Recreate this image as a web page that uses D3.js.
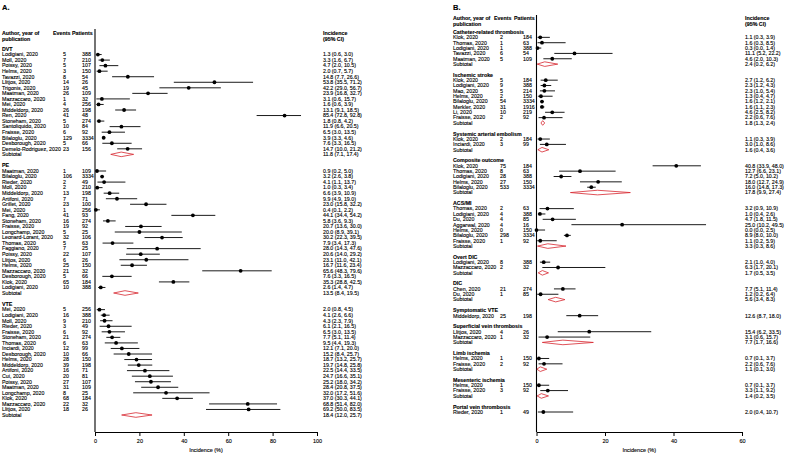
<!DOCTYPE html>
<html>
<head>
<meta charset="utf-8">
<script src="https://cdn.jsdelivr.net/npm/d3@7"></script>
<style>
  body { margin: 0; background: #fff; }
  svg text { font-family: 'Liberation Sans', Arial, Helvetica, sans-serif; fill: #000; stroke: #000; stroke-width: 0.12px; }
</style>
</head>
<body>
<svg id="chart" width="787" height="454"></svg>
<script>
// each study: [author, events, patients, incidence, lower, upper]
const dvt = [
  ["Lodigiani, 2020", 5, 388, 1.3, 0.6, 3.0],
  ["Moll, 2020", 7, 210, 3.3, 1.6, 6.7],
  ["Poissy, 2020", 5, 107, 4.7, 2.0, 10.5],
  ["Helms, 2020", 3, 150, 2.0, 0.7, 5.7],
  ["Tavazzi, 2020", 8, 54, 14.8, 7.7, 26.6],
  ["Llitjos, 2020", 14, 26, 53.8, 35.5, 71.2],
  ["Trigonis, 2020", 19, 45, 42.2, 29.0, 56.7],
  ["Maatman, 2020", 26, 109, 23.9, 16.8, 32.7],
  ["Mazzaccaro, 2020", 1, 32, 3.1, 0.6, 15.7],
  ["Mei, 2020", 4, 256, 1.6, 0.6, 3.9],
  ["Middeldorp, 2020", 26, 198, 13.1, 9.1, 18.5],
  ["Ren, 2020", 41, 48, 85.4, 72.8, 92.8],
  ["Stoneham, 2020", 5, 274, 1.8, 0.8, 4.2],
  ["Santoliquido, 2020", 10, 84, 11.9, 6.6, 20.5],
  ["Fraisse, 2020", 6, 92, 6.5, 3.0, 13.5],
  ["Bilaloglu, 2020", 129, 3334, 3.9, 3.3, 4.6],
  ["Desborough, 2020", 5, 66, 7.6, 3.3, 16.5],
  ["Demelo-Rodriguez, 2020", 23, 156, 14.7, 10.0, 21.2]
];
const pe = [
  ["Maatman, 2020", 1, 109, 0.9, 0.2, 5.0],
  ["Bilaloglu, 2020", 106, 3334, 3.2, 2.6, 3.8],
  ["Rieder, 2020", 2, 49, 4.1, 1.1, 13.7],
  ["Moll, 2020", 2, 210, 1.0, 0.3, 3.4],
  ["Middeldorp, 2020", 13, 198, 6.6, 3.9, 10.9],
  ["Artifoni, 2020", 7, 71, 9.9, 4.9, 19.0],
  ["Grillet, 2020", 23, 100, 23.0, 15.8, 32.2],
  ["Mei, 2020", 1, 256, 0.4, 0.1, 2.2],
  ["Fang, 2020", 41, 93, 44.1, 34.4, 54.2],
  ["Stoneham, 2020", 16, 274, 5.8, 3.6, 9.3],
  ["Fraisse, 2020", 19, 92, 20.7, 13.6, 30.0],
  ["Longchamp, 2020", 5, 25, 20.0, 8.9, 39.1],
  ["Leonard-Lorant, 2020", 32, 106, 30.2, 22.3, 39.5],
  ["Thomas, 2020", 5, 63, 7.9, 3.4, 17.3],
  ["Faggiano, 2020", 7, 25, 28.0, 14.3, 47.6],
  ["Poissy, 2020", 22, 107, 20.6, 14.0, 29.2],
  ["Llitjos, 2020", 6, 26, 23.1, 11.0, 42.1],
  ["Helms, 2020", 25, 150, 16.7, 11.6, 23.4],
  ["Mazzaccaro, 2020", 21, 32, 65.6, 48.3, 79.6],
  ["Desborough, 2020", 5, 66, 7.6, 3.3, 16.5],
  ["Klok, 2020", 65, 184, 35.3, 28.8, 42.5],
  ["Lodigiani, 2020", 10, 388, 2.6, 1.4, 4.7]
];
const vte = [
  ["Mei, 2020", 5, 256, 2.0, 0.8, 4.5],
  ["Lodigiani, 2020", 16, 388, 4.1, 2.6, 6.6],
  ["Moll, 2020", 9, 210, 4.3, 2.3, 7.9],
  ["Rieder, 2020", 3, 49, 6.1, 2.1, 16.5],
  ["Fraisse, 2020", 6, 92, 6.5, 3.0, 13.5],
  ["Stoneham, 2020", 21, 274, 7.7, 5.1, 11.4],
  ["Thomas, 2020", 6, 63, 9.5, 4.4, 19.3],
  ["Inciardi, 2020", 12, 99, 12.1, 7.1, 20.0],
  ["Desborough, 2020", 10, 66, 15.2, 8.4, 25.7],
  ["Helms, 2020", 28, 150, 18.7, 13.2, 25.7],
  ["Middeldorp, 2020", 39, 198, 19.7, 14.8, 25.8],
  ["Artifoni, 2020", 16, 71, 22.5, 14.4, 33.5],
  ["Cui, 2020", 20, 81, 24.7, 16.6, 35.1],
  ["Poissy, 2020", 27, 107, 25.2, 18.0, 34.2],
  ["Maatman, 2020", 31, 109, 28.4, 20.8, 37.5],
  ["Longchamp, 2020", 8, 25, 32.0, 17.2, 51.6],
  ["Klok, 2020", 68, 184, 37.0, 30.3, 44.1],
  ["Mazzaccaro, 2020", 22, 32, 68.8, 51.4, 82.0],
  ["Llitjos, 2020", 18, 26, 69.2, 50.0, 83.5]
];
// subtotal: [incidence, lower, upper]
const dvtSub = [11.8, 7.1, 17.4];
const peSub = [13.5, 8.4, 19.5];
const vteSub = [18.4, 12.0, 25.7];

const catheter = [
  ["Klok, 2020", 2, 184, 1.1, 0.3, 3.9],
  ["Thomas, 2020", 1, 63, 1.6, 0.3, 8.5],
  ["Lodigiani, 2020", 1, 388, 0.3, 0.0, 1.4],
  ["Tavazzi, 2020", 6, 54, 11.1, 5.2, 22.2],
  ["Maatman, 2020", 5, 109, 4.6, 2.0, 10.3]
];
const stroke = [
  ["Klok, 2020", 5, 184, 2.7, 1.2, 6.2],
  ["Lodigiani, 2020", 9, 388, 2.3, 1.2, 4.3],
  ["Mao, 2020", 5, 214, 2.3, 1.0, 5.4],
  ["Helms, 2020", 2, 150, 1.3, 0.4, 4.7],
  ["Bilaloglu, 2020", 54, 3334, 1.6, 1.2, 2.1],
  ["Merkler, 2020", 31, 1916, 1.6, 1.1, 2.3],
  ["Li, 2020", 10, 219, 4.6, 2.5, 8.2],
  ["Fraisse, 2020", 2, 92, 2.2, 0.6, 7.6]
];
const embolism = [
  ["Klok, 2020", 2, 184, 1.1, 0.3, 3.9],
  ["Inciardi, 2020", 3, 99, 3.0, 1.0, 8.6]
];
const composite = [
  ["Klok, 2020", 75, 184, 40.8, 33.9, 48.0],
  ["Thomas, 2020", 8, 63, 12.7, 6.6, 23.1],
  ["Lodigiani, 2020", 28, 388, 7.2, 5.0, 10.2],
  ["Helms, 2020", 27, 150, 18.0, 12.7, 24.9],
  ["Bilaloglu, 2020", 533, 3334, 16.0, 14.8, 17.3]
];
const acsmi = [
  ["Thomas, 2020", 2, 63, 3.2, 0.9, 10.9],
  ["Lodigiani, 2020", 4, 388, 1.0, 0.4, 2.6],
  ["Du, 2020", 4, 85, 4.7, 1.8, 11.5],
  ["Aggarwal, 2020", 4, 16, 25.0, 10.2, 49.5],
  ["Helms, 2020", 0, 150, 0.0, 0.0, 2.5],
  ["Bilaloglu, 2020", 298, 3334, 8.9, 8.0, 10.0],
  ["Fraisse, 2020", 1, 92, 1.1, 0.2, 5.9]
];
const overtDic = [
  ["Lodigiani, 2020", 8, 388, 2.1, 1.0, 4.0],
  ["Mazzaccaro, 2020", 2, 32, 6.3, 1.7, 20.1]
];
const dic = [
  ["Chen, 2020", 21, 274, 7.7, 5.1, 11.4],
  ["Du, 2020", 1, 85, 1.2, 0.2, 6.4]
];
const sympVte = [
  ["Middeldorp, 2020", 25, 198, 12.6, 8.7, 18.0]
];
const superficial = [
  ["Llitjos, 2020", 4, 26, 15.4, 6.2, 33.5],
  ["Mazzaccaro, 2020", 1, 32, 3.1, 0.6, 15.7]
];
const limb = [
  ["Helms, 2020", 1, 150, 0.7, 0.1, 3.7],
  ["Fraisse, 2020", 2, 92, 2.2, 0.6, 7.6]
];
const mesenteric = [
  ["Helms, 2020", 1, 150, 0.7, 0.1, 3.7],
  ["Fraisse, 2020", 3, 92, 3.3, 1.1, 9.2]
];
const portal = [
  ["Rieder, 2020", 1, 49, 2.0, 0.4, 10.7]
];
const catheterSub = [2.4, 0.2, 6.2];
const strokeSub = [1.8, 1.3, 2.4];
const embolismSub = [1.6, 0.4, 3.6];
const compositeSub = [17.8, 9.9, 27.4];
const acsmiSub = [3.3, 0.3, 8.6];
const overtDicSub = [1.7, 0.5, 3.5];
const dicSub = [5.6, 3.4, 8.3];
const superficialSub = [7.7, 1.7, 16.6];
const limbSub = [1.1, 0.1, 3.0];
const mesentericSub = [1.4, 0.2, 3.5];

const ticksA = [0, 20, 40, 60, 80, 100];
const ticksB = [0, 20, 40, 60];

const sectionsA = [
  { label: "DVT", studies: dvt, sub: dvtSub },
  { label: "PE", studies: pe, sub: peSub },
  { label: "VTE", studies: vte, sub: vteSub }
];
const sectionsB = [
  { label: "Catheter-related thrombosis", studies: catheter, sub: catheterSub },
  { label: "Ischemic stroke", studies: stroke, sub: strokeSub },
  { label: "Systemic arterial embolism", studies: embolism, sub: embolismSub },
  { label: "Composite outcome", studies: composite, sub: compositeSub },
  { label: "ACS/MI", studies: acsmi, sub: acsmiSub },
  { label: "Overt DIC", studies: overtDic, sub: overtDicSub },
  { label: "DIC", studies: dic, sub: dicSub },
  { label: "Symptomatic VTE", studies: sympVte, sub: null },
  { label: "Superficial vein thrombosis", studies: superficial, sub: superficialSub },
  { label: "Limb ischemia", studies: limb, sub: limbSub },
  { label: "Mesenteric ischemia", studies: mesenteric, sub: mesentericSub },
  { label: "Portal vein thrombosis", studies: portal, sub: null }
];

const svg = d3.select("#chart");
const FS = 5.3;
const RED = "#d7262e";
const fmt = d3.format(".1f");
const ciText = (e, l, h) => `${fmt(e)} (${fmt(l)}, ${fmt(h)})`;

function buildRows(sections) {
  const rows = [];
  let i = 0;
  sections.forEach(s => {
    rows.push({ type: "head", idx: i++, label: s.label });
    s.studies.forEach(d => rows.push({ type: "study", idx: i++, d: d }));
    if (s.sub) rows.push({ type: "sub", idx: i++, d: s.sub });
    i++; // blank line
  });
  return rows;
}

function drawPanel(p) {
  const rows = buildRows(p.sections);
  const nMax = d3.max(rows, r => r.idx);
  const y = d3.scaleLinear().domain([0, nMax]).range(p.yRange);
  const x = d3.scaleLinear().domain(p.domain).range(p.xRange);
  const g = svg.append("g");

  // panel letter
  g.append("text").attr("x", p.letterX).attr("y", 10)
    .attr("font-size", 7.5).attr("font-weight", "bold").text(p.letter);

  // column headers
  const hd = g.append("g").attr("font-size", FS).attr("font-weight", "bold");
  hd.append("text").attr("x", p.nameX).attr("y", p.headY).attr("dy", "0.35em").text("Author, year of");
  hd.append("text").attr("x", p.nameX).attr("y", p.headY + 6).attr("dy", "0.35em").text("publication");
  hd.append("text").attr("x", p.evHeadX).attr("y", p.headY).attr("dy", "0.35em").text("Events");
  hd.append("text").attr("x", p.ptHeadX).attr("y", p.headY).attr("dy", "0.35em").text("Patients");
  hd.append("text").attr("x", p.ciX).attr("y", p.headY).attr("dy", "0.35em").text("Incidence");
  hd.append("text").attr("x", p.ciX).attr("y", p.headY + 6).attr("dy", "0.35em").text("(95% CI)");

  // text columns
  const tx = g.append("g").attr("font-size", FS);
  rows.forEach(r => {
    const yy = y(r.idx);
    if (r.type === "head") {
      tx.append("text").attr("x", p.nameX).attr("y", yy).attr("dy", "0.35em")
        .attr("font-weight", "bold").text(r.label);
    } else if (r.type === "study") {
      const d = r.d;
      tx.append("text").attr("x", p.nameX).attr("y", yy).attr("dy", "0.35em").text(d[0]);
      tx.append("text").attr("x", p.evX).attr("y", yy).attr("dy", "0.35em").text(d[1]);
      tx.append("text").attr("x", p.ptX).attr("y", yy).attr("dy", "0.35em").text(d[2]);
      tx.append("text").attr("x", p.ciX).attr("y", yy).attr("dy", "0.35em").text(ciText(d[3], d[4], d[5]));
    } else {
      const d = r.d;
      tx.append("text").attr("x", p.nameX).attr("y", yy).attr("dy", "0.35em").text("Subtotal");
      tx.append("text").attr("x", p.ciX).attr("y", yy).attr("dy", "0.35em").text(ciText(d[0], d[1], d[2]));
    }
  });

  // zero line
  g.append("line")
    .attr("x1", x(0)).attr("x2", x(0))
    .attr("y1", p.lineTop).attr("y2", p.axisY)
    .attr("stroke", "#000").attr("stroke-width", 1.1);

  const studies = rows.filter(r => r.type === "study");
  const subs = rows.filter(r => r.type === "sub");

  g.append("g").selectAll("line").data(studies).join("line")
    .attr("x1", r => x(r.d[4])).attr("x2", r => x(r.d[5]))
    .attr("y1", r => y(r.idx)).attr("y2", r => y(r.idx))
    .attr("stroke", "#000").attr("stroke-width", 0.9);

  g.append("g").selectAll("circle").data(studies).join("circle")
    .attr("cx", r => x(r.d[3])).attr("cy", r => y(r.idx))
    .attr("r", 1.9).attr("fill", "#000");

  const dh = 2.3;
  g.append("g").selectAll("path").data(subs).join("path")
    .attr("d", r => {
      const yy = y(r.idx);
      return `M${x(r.d[1])},${yy}L${x(r.d[0])},${yy - dh}L${x(r.d[2])},${yy}L${x(r.d[0])},${yy + dh}Z`;
    })
    .attr("fill", "none").attr("stroke", RED).attr("stroke-width", 0.8);

  // x axis
  const ax = g.append("g").attr("transform", `translate(0,${p.axisY})`)
    .call(d3.axisBottom(x).tickValues(p.ticks).tickSize(4).tickSizeOuter(0).tickPadding(3));
  ax.select(".domain").attr("stroke", "#000").attr("stroke-width", 1.1);
  ax.selectAll(".tick line").attr("stroke", "#000");
  ax.selectAll(".tick text").attr("font-size", 5.5).attr("fill", "#000")
    .attr("font-family", "'Liberation Sans', Arial, sans-serif");

  g.append("text")
    .attr("x", (p.xRange[0] + p.xRange[1]) / 2).attr("y", p.axisY + 20)
    .attr("text-anchor", "middle").attr("font-size", 5.5)
    .text("Incidence (%)");
}

drawPanel({
  letter: "A.", letterX: 2, sections: sectionsA,
  domain: [0, 100], xRange: [95, 317], ticks: ticksA,
  yRange: [49, 415], headY: 33, lineTop: 29, axisY: 432,
  nameX: 2, evHeadX: 53, ptHeadX: 72, evX: 63, ptX: 82, ciX: 323
});

drawPanel({
  letter: "B.", letterX: 453, sections: sectionsB,
  domain: [0, 60], xRange: [536.5, 742], ticks: ticksB,
  yRange: [32, 412], headY: 18, lineTop: 15, axisY: 432,
  nameX: 453, evHeadX: 494, ptHeadX: 514, evX: 500, ptX: 523, ciX: 745
});
</script>
</body>
</html>
